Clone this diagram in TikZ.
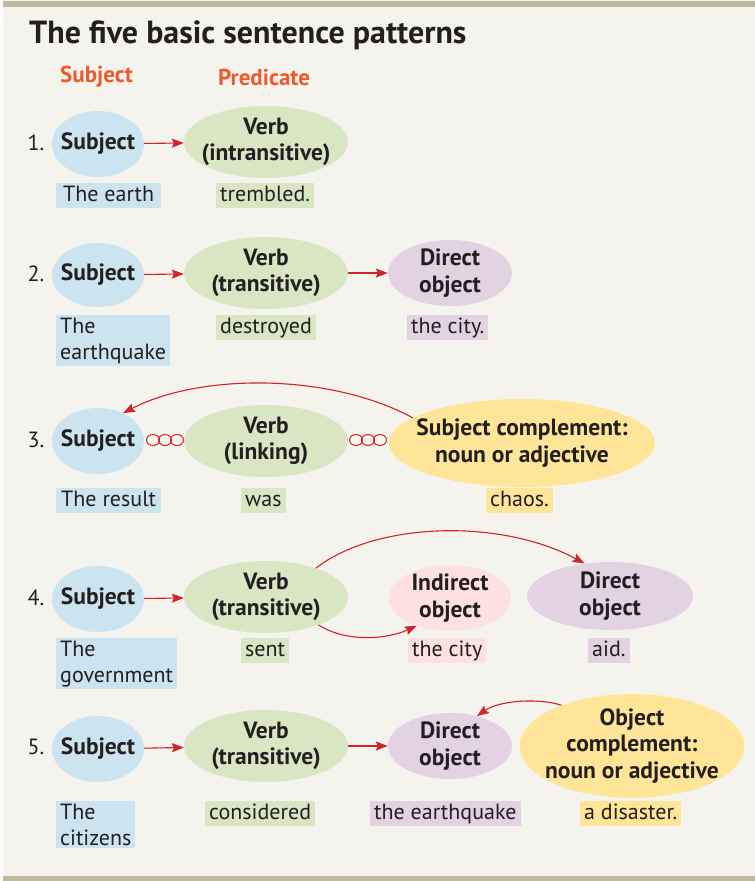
\documentclass[tikz,border=0pt]{standalone}
\usepackage{fontspec}
\setmainfont{PT Sans}
\usetikzlibrary{arrows.meta,shapes.geometric}

\definecolor{bgc}{HTML}{F4F3EE}
\definecolor{barc}{HTML}{BDBA9E}
\definecolor{subjc}{HTML}{CCE4F0}
\definecolor{verbc}{HTML}{D9E5C3}
\definecolor{dobjc}{HTML}{E2D2E2}
\definecolor{iobjc}{HTML}{FDE1E0}
\definecolor{compc}{HTML}{FFE598}
\definecolor{arrc}{HTML}{D2232A}
\definecolor{headc}{HTML}{EE5A2C}
\definecolor{inkc}{HTML}{231F20}

\tikzset{
  % the ellipse size is set by minimum width/height alone
  role/.style={ellipse, inner xsep=-40pt, inner ysep=-20pt, align=center, text=inkc,
    font=\fontsize{23.5}{26.5}\selectfont\bfseries},
  word/.style={anchor=north west, inner xsep=4pt, inner ysep=0pt, align=left,
    text=inkc, font=\fontsize{22}{26}\selectfont,
    text height=17pt, text depth=6pt, minimum height=25pt},
  words/.style={anchor=north west, inner xsep=4pt, inner ysep=2.5pt, align=left,
    text=inkc, font=\fontsize{22}{26}\selectfont},
  num/.style={text=inkc, font=\fontsize{22}{26}\selectfont},
  link/.style={draw=arrc, line width=1.1pt,
    -{Stealth[length=12pt,width=9pt,inset=2pt]}},
  ring/.style={draw=arrc, line width=1pt},
}

\begin{document}
\begin{tikzpicture}[x=1pt,y=-1pt]
  % page, with the two rules at top and bottom
  \useasboundingbox (0,0) rectangle (755,881);
  \fill[bgc] (3,0) rectangle (755,881);
  \fill[barc] (3,1) rectangle (755,7);
  \fill[barc] (3,876) rectangle (755,881);

  % headings
  \node[anchor=west, inner sep=0pt, text=inkc, font=\fontsize{32}{36}\selectfont\bfseries] (title) at (29,35)
    {The five basic sentence patterns};
  \node[anchor=west, inner sep=0pt, text=headc, font=\fontsize{23}{26}\selectfont\bfseries] (hsubj) at (60,77) {Subject};
  \node[anchor=west, inner sep=0pt, text=headc, font=\fontsize{23}{26}\selectfont\bfseries] (hpred) at (218,77) {Predicate};

  % ---------- 1 ----------
  \node[num] (n1) at (36,143) {1.};
  \node[role, fill=subjc, minimum width=92pt, minimum height=66pt] (s1) at (98,144) {Subject};
  \node[role, fill=verbc, minimum width=164pt, minimum height=72pt] (v1) at (266,142) {Verb\\(intransitive)};
  \draw[link] (s1) -- (v1);
  \node[word, fill=subjc, minimum width=105pt] (w1a) at (56,183) {The earth};
  \node[word, fill=verbc] (w1b) at (216,183) {trembled.};

  % ---------- 2 ----------
  \node[num] (n2) at (36,274) {2.};
  \node[role, fill=subjc, minimum width=92pt, minimum height=64pt] (s2) at (98,275) {Subject};
  \node[role, fill=verbc, minimum width=164pt, minimum height=72pt] (v2) at (266,273) {Verb\\(transitive)};
  \node[role, fill=dobjc, minimum width=124pt, minimum height=66pt] (d2) at (450,273) {Direct\\object};
  \draw[link] (s2) -- (v2);
  \draw[link] (v2) -- (d2);
  \node[words, fill=subjc] (w2a) at (56,315) {The\\earthquake};
  \node[word, fill=verbc] (w2b) at (216,315) {destroyed};
  \node[word, fill=dobjc] (w2c) at (407,315) {the city.};

  % ---------- 3 ----------
  \node[num] (n3) at (36,440) {3.};
  \node[role, fill=subjc, minimum width=92pt, minimum height=66pt] (s3) at (98,441) {Subject};
  \node[role, fill=verbc, minimum width=164pt, minimum height=72pt] (v3) at (266,441) {Verb\\(linking)};
  \node[role, fill=compc, minimum width=266pt, minimum height=88pt] (c3) at (522,443)
    {Subject complement:\\noun or adjective};
  % chain links standing for the linking verb
  \foreach \cx in {153,165,177} \draw[ring] (\cx,440) ellipse [x radius=6.5pt, y radius=5.5pt];
  \foreach \cx in {356,368,380} \draw[ring] (\cx,440) ellipse [x radius=6.5pt, y radius=5.5pt];
  \draw[link] (c3.167) .. controls (330,373) and (200,373) .. (s3.48);
  \node[word, fill=subjc, minimum width=105pt] (w3a) at (56,488) {The result};
  \node[word, fill=verbc] (w3b) at (241,488) {was};
  \node[word, fill=compc] (w3c) at (486,488) {chaos.};

  % ---------- 4 ----------
  \node[num] (n4) at (36,598) {4.};
  \node[role, fill=subjc, minimum width=92pt, minimum height=66pt] (s4) at (98,599) {Subject};
  \node[role, fill=verbc, minimum width=164pt, minimum height=72pt] (v4) at (266,597) {Verb\\(transitive)};
  \node[role, fill=iobjc, minimum width=122pt, minimum height=66pt] (i4) at (450,598) {Indirect\\object};
  \node[role, fill=dobjc, minimum width=166pt, minimum height=68pt] (d4) at (610,596) {Direct\\object};
  \draw[link] (s4) -- (v4);
  \draw[link] (v4.30) .. controls (375,522) and (500,518) .. (d4.128);
  \draw[link] (v4.-28) .. controls (345,642) and (385,640) .. (i4.-140);
  \node[words, fill=subjc] (w4a) at (56,638) {The\\government};
  \node[word, fill=verbc] (w4b) at (241,638) {sent};
  \node[word, fill=iobjc] (w4c) at (408,638) {the city};
  \node[word, fill=dobjc] (w4d) at (588,638) {aid.};

  % ---------- 5 ----------
  \node[num] (n5) at (36,747) {5.};
  \node[role, fill=subjc, minimum width=92pt, minimum height=66pt] (s5) at (98,749) {Subject};
  \node[role, fill=verbc, minimum width=164pt, minimum height=72pt] (v5) at (266,746) {Verb\\(transitive)};
  \node[role, fill=dobjc, minimum width=124pt, minimum height=66pt] (d5) at (450,746) {Direct\\object};
  \node[role, fill=compc, minimum width=225pt, minimum height=104pt] (c5) at (632,746)
    {Object\\complement:\\noun or adjective};
  \draw[link] (s5) -- (v5);
  \draw[link] (v5) -- (d5);
  \draw[link] (c5.150) .. controls (540,698) and (500,700) .. (d5.48);
  \node[words, fill=subjc] (w5a) at (56,801) {The\\citizens};
  \node[word, fill=verbc] (w5b) at (205,801) {considered};
  \node[word, fill=dobjc] (w5c) at (370,801) {the earthquake};
  \node[word, fill=compc] (w5d) at (580,801) {a disaster.};
\end{tikzpicture}
\end{document}
